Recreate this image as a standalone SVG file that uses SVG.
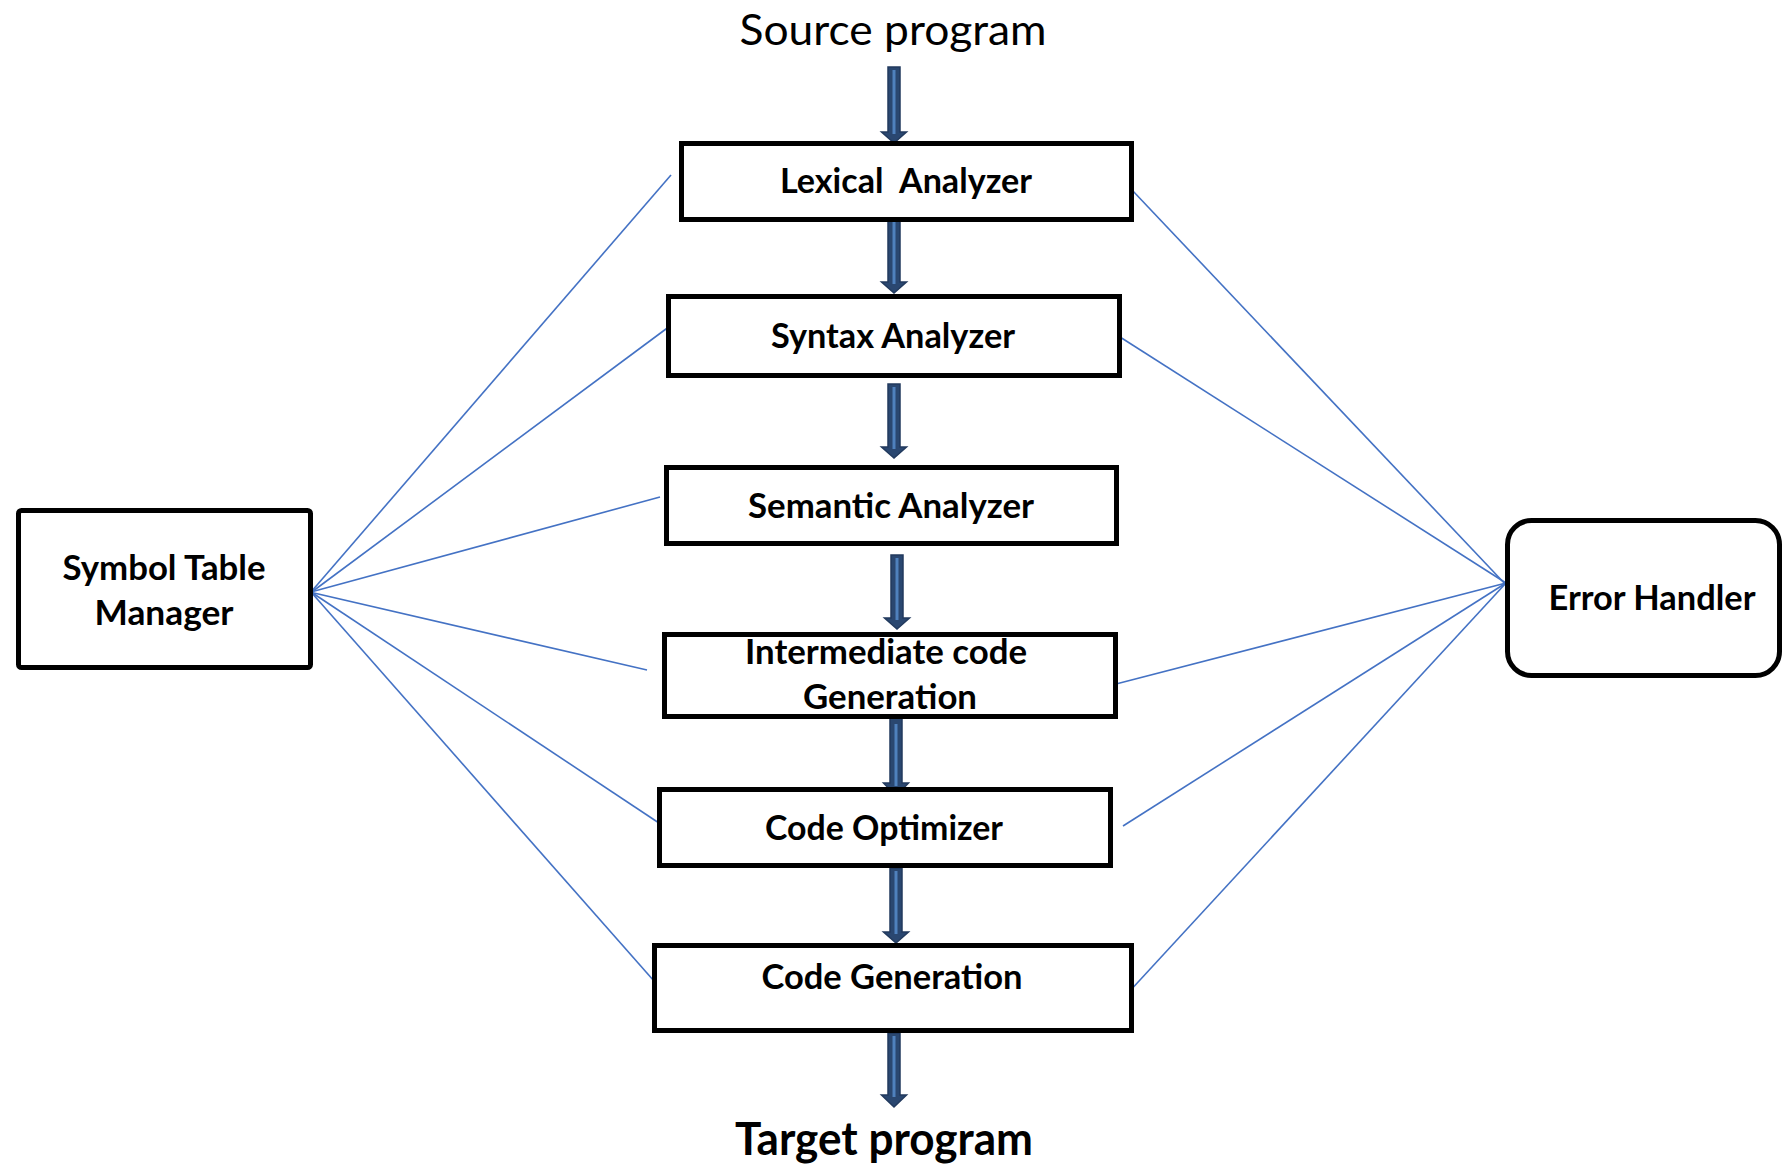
<svg xmlns="http://www.w3.org/2000/svg" width="1786" height="1167" viewBox="0 0 1786 1167">
<style>
.box{fill:#ffffff;stroke:#000000;stroke-width:5}
.lbl{font-family:Lato,"Liberation Sans",sans-serif;font-weight:bold;font-size:35px;fill:#000000;text-anchor:middle}
.ttl{font-family:Lato,"Liberation Sans",sans-serif;font-size:43px;fill:#000000;text-anchor:middle}
.link{stroke:#4472c4;stroke-width:1.6;fill:none}
.arr{fill:#2a4770;stroke:#223a5e;stroke-width:1.5;stroke-linejoin:miter}
.arrin{stroke:#4f81bd;stroke-width:3;fill:none}
</style>
<rect width="1786" height="1167" fill="#ffffff"/>
<g id="connectors">
  <g id="links-left">
    <line class="link" x1="311" y1="592" x2="671" y2="175"/>
    <line class="link" x1="305" y1="597" x2="670" y2="326"/>
    <line class="link" x1="311" y1="592" x2="660" y2="497"/>
    <line class="link" x1="301" y1="590" x2="647" y2="670"/>
    <line class="link" x1="311" y1="592" x2="662" y2="825"/>
    <line class="link" x1="311" y1="592" x2="654" y2="981"/>
  </g>
  <g id="links-right">
    <line class="link" x1="1507" y1="586" x2="1132" y2="190"/>
    <line class="link" x1="1506" y1="583" x2="1120" y2="337"/>
    <line class="link" x1="1506" y1="583" x2="1116" y2="684"/>
    <line class="link" x1="1506" y1="583" x2="1123" y2="826"/>
    <line class="link" x1="1506" y1="583" x2="1128" y2="993"/>
  </g>
  <g id="flow-arrows">
    <polygon class="arr" points="888,67 900,67 900,132 906.5,132 894,143 881.5,132 888,132"/>
    <line class="arrin" x1="894" y1="70" x2="894" y2="134"/>
    <polygon class="arr" points="888,219 900,219 900,282 906.5,282 894,293 881.5,282 888,282"/>
    <line class="arrin" x1="894" y1="222" x2="894" y2="284"/>
    <polygon class="arr" points="888,384 900,384 900,447 906.5,447 894,458 881.5,447 888,447"/>
    <line class="arrin" x1="894" y1="387" x2="894" y2="449"/>
    <polygon class="arr" points="891,555 903,555 903,618 909.5,618 897,629 884.5,618 891,618"/>
    <line class="arrin" x1="897" y1="558" x2="897" y2="620"/>
    <polygon class="arr" points="890,718 902,718 902,783 908.5,783 896,796 883.5,783 890,783"/>
    <line class="arrin" x1="896" y1="724" x2="896" y2="786"/>
    <polygon class="arr" points="890,868 902,868 902,932 908.5,932 896,943 883.5,932 890,932"/>
    <line class="arrin" x1="896" y1="871" x2="896" y2="934"/>
    <polygon class="arr" points="888,1033 900,1033 900,1095 906.5,1095 894,1107 881.5,1095 888,1095"/>
    <line class="arrin" x1="894" y1="1036" x2="894" y2="1097"/>
  </g>
</g>
<g id="source">
  <text class="ttl" x="893" y="45" textLength="307" lengthAdjust="spacingAndGlyphs">Source program</text>
</g>
<g id="lexical">
  <rect class="box" x="681.5" y="143.5" width="450" height="76"/>
  <text class="lbl" x="906" y="193" textLength="252" lengthAdjust="spacingAndGlyphs">Lexical&#160; Analyzer</text>
</g>
<g id="syntax">
  <rect class="box" x="668.5" y="296.5" width="451" height="79"/>
  <text class="lbl" x="893" y="348" textLength="244" lengthAdjust="spacingAndGlyphs">Syntax Analyzer</text>
</g>
<g id="semantic">
  <rect class="box" x="666.5" y="467.5" width="450" height="76"/>
  <text class="lbl" x="891" y="518" textLength="286" lengthAdjust="spacingAndGlyphs">Semantic Analyzer</text>
</g>
<g id="intermediate">
  <rect class="box" x="664.5" y="634.5" width="451" height="82"/>
  <text class="lbl" x="886" y="664" textLength="282" lengthAdjust="spacingAndGlyphs">Intermediate code</text>
  <text class="lbl" x="890" y="709" textLength="174" lengthAdjust="spacingAndGlyphs">Generation</text>
</g>
<g id="optimizer">
  <rect class="box" x="659.5" y="789.5" width="451" height="76"/>
  <text class="lbl" x="884" y="840" textLength="238" lengthAdjust="spacingAndGlyphs">Code Optimizer</text>
</g>
<g id="codegen">
  <rect class="box" x="654.5" y="945.5" width="477" height="85"/>
  <text class="lbl" x="892" y="989" textLength="261" lengthAdjust="spacingAndGlyphs">Code Generation</text>
</g>
<g id="target">
  <text class="lbl" x="884" y="1155" style="font-size:45px" textLength="298" lengthAdjust="spacingAndGlyphs">Target program</text>
</g>
<g id="symbol-table">
  <rect class="box" x="18.5" y="510.5" width="292" height="157" rx="3"/>
  <text class="lbl" x="164" y="580" textLength="203" lengthAdjust="spacingAndGlyphs">Symbol Table</text>
  <text class="lbl" x="164" y="625" textLength="139" lengthAdjust="spacingAndGlyphs">Manager</text>
</g>
<g id="error-handler">
  <rect class="box" x="1507.5" y="520.5" width="272" height="155" rx="24"/>
  <text class="lbl" x="1652" y="610" textLength="207" lengthAdjust="spacingAndGlyphs">Error Handler</text>
</g>
</svg>
